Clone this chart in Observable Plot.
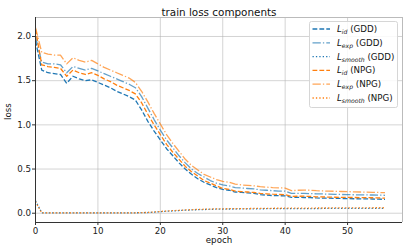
<!DOCTYPE html>
<html><head><meta charset="utf-8">
<script src="https://cdn.jsdelivr.net/npm/d3@7"></script>
<script src="https://cdn.jsdelivr.net/npm/@observablehq/plot@0.6"></script>
<style>
body{margin:0;background:#fff;}
svg{font-family:"DejaVu Sans",sans-serif;}
</style>
</head><body><div id="chart"></div>
<script>
const epochs = d3.range(57);
const xTicks = [0, 10, 20, 30, 40, 50];
const yTicks = [0, 0.5, 1.0, 1.5, 2.0];
const titleText = "train loss components";

const gddId = [1.95,1.62,1.59,1.58,1.57,1.47,1.55,1.52,1.50,1.51,1.48,1.45,1.42,1.38,1.35,1.32,1.28,1.17,1.04,0.93,
0.83,0.73,0.65,0.57,0.50,0.44,0.39,0.35,0.32,0.29,0.27,0.26,0.24,0.235,0.23,0.225,0.21,0.205,0.20,0.198,
0.197,0.18,0.18,0.178,0.177,0.173,0.171,0.17,0.168,0.167,0.165,0.164,0.163,0.162,0.161,0.159,0.157];
const gddExp = [2.00,1.71,1.69,1.69,1.68,1.59,1.66,1.64,1.62,1.64,1.61,1.58,1.55,1.52,1.49,1.46,1.42,1.32,1.19,1.06,
0.94,0.83,0.74,0.65,0.57,0.50,0.45,0.41,0.37,0.34,0.32,0.31,0.29,0.285,0.28,0.275,0.265,0.26,0.255,0.25,
0.25,0.225,0.225,0.225,0.222,0.22,0.218,0.216,0.214,0.212,0.21,0.209,0.208,0.207,0.206,0.205,0.203];
const gddSmooth = [0.14,0.005,0.004,0.004,0.004,0.004,0.004,0.004,0.004,0.004,0.004,0.004,0.004,0.004,0.005,0.005,0.005,0.006,0.008,0.012,
0.018,0.022,0.026,0.030,0.034,0.037,0.040,0.042,0.044,0.046,0.047,0.048,0.048,0.049,0.049,0.050,0.050,0.051,0.051,0.052,
0.052,0.052,0.053,0.053,0.053,0.053,0.054,0.054,0.054,0.054,0.054,0.055,0.055,0.055,0.055,0.055,0.055];
const npgId = [2.08,1.68,1.66,1.65,1.64,1.55,1.62,1.59,1.57,1.59,1.56,1.52,1.49,1.45,1.42,1.39,1.35,1.25,1.12,1.00,
0.89,0.78,0.69,0.61,0.53,0.47,0.42,0.37,0.34,0.31,0.28,0.27,0.25,0.245,0.24,0.235,0.225,0.22,0.215,0.212,
0.21,0.19,0.192,0.193,0.19,0.186,0.184,0.183,0.181,0.18,0.179,0.178,0.177,0.176,0.175,0.173,0.171];
const npgExp = [2.10,1.82,1.80,1.79,1.79,1.69,1.76,1.73,1.71,1.73,1.69,1.65,1.62,1.59,1.56,1.53,1.48,1.38,1.26,1.13,
1.01,0.89,0.79,0.70,0.61,0.54,0.49,0.44,0.41,0.38,0.36,0.35,0.33,0.32,0.315,0.31,0.30,0.295,0.29,0.287,
0.285,0.255,0.26,0.262,0.26,0.255,0.252,0.25,0.248,0.246,0.244,0.242,0.24,0.238,0.237,0.235,0.232];
const npgSmooth = [0.13,0.005,0.004,0.004,0.004,0.004,0.004,0.004,0.004,0.004,0.004,0.004,0.004,0.004,0.005,0.005,0.005,0.007,0.009,0.014,
0.020,0.025,0.029,0.033,0.037,0.040,0.043,0.045,0.047,0.049,0.050,0.051,0.052,0.053,0.053,0.054,0.055,0.055,0.056,0.056,
0.057,0.057,0.058,0.058,0.058,0.059,0.059,0.059,0.060,0.060,0.060,0.061,0.061,0.061,0.062,0.062,0.062];

const seriesNames = ["id", "exp", "smooth", "id", "exp", "smooth"];
const seriesTags = ["GDD", "GDD", "GDD", "NPG", "NPG", "NPG"];
const seriesValues = [gddId, gddExp, gddSmooth, npgId, npgExp, npgSmooth];
const blue = "#1f77b4", orange = "#ff7f0e";
const dashes = {id: "4.8,2.1", exp: "8.3,2.1,1.3,2.1", smooth: "1.3,2.1"};
const alphas = {id: 1, exp: 0.7, smooth: 1};

const series = seriesNames.map((n, k) => ({
  name: n, tag: seriesTags[k], values: seriesValues[k],
  color: seriesTags[k] === "GDD" ? blue : orange,
  dash: dashes[n], opacity: alphas[n]
}));

const W = 407, H = 252;
const mL = 35, mR = 5, mT = 17, mB = 30;
const xDomain = [0, 58.8], yDomain = [-0.105, 2.215];

const marks = [
  Plot.gridX(xTicks, {stroke: "#b0b0b0", strokeOpacity: 0.55, strokeWidth: 1}),
  Plot.gridY(yTicks, {stroke: "#b0b0b0", strokeOpacity: 0.55, strokeWidth: 1}),
  ...series.map(s => Plot.line(epochs, {
    x: d => d, y: (d, i) => s.values[i],
    stroke: s.color, strokeWidth: 1.3, strokeDasharray: s.dash,
    strokeOpacity: s.opacity, strokeLinecap: "butt", strokeLinejoin: "round"
  })),
  Plot.ruleY([yDomain[1]], {stroke: "#bbbbbb", strokeWidth: 1}),
  Plot.ruleX([xDomain[1]], {stroke: "#bbbbbb", strokeWidth: 1}),
  Plot.ruleX([xDomain[0]], {stroke: "#333", strokeWidth: 1}),
  Plot.ruleY([yDomain[0]], {stroke: "#333", strokeWidth: 1}),
  Plot.axisX(xTicks, {tickSize: 3, tickPadding: 2, fontSize: 8.7, label: null, stroke: "#333", fill: "#222"}),
  Plot.axisY(yTicks, {tickSize: 3, tickPadding: 1.5, fontSize: 8.7, label: null, tickFormat: d3.format(".1f"), stroke: "#333", fill: "#222"}),
  Plot.text([titleText], {frameAnchor: "top", dy: -9, fontSize: 10.4, fill: "#111"}),
  Plot.text(["epoch"], {frameAnchor: "bottom", dy: 20, fontSize: 8.7, fill: "#111"}),
  Plot.text(["loss"], {frameAnchor: "left", dx: -27, rotate: -90, fontSize: 8.7, fill: "#111"})
];

const svg = Plot.plot({
  width: W, height: H,
  marginLeft: mL, marginRight: mR, marginTop: mT, marginBottom: mB,
  x: {domain: xDomain},
  y: {domain: yDomain},
  style: {fontFamily: "DejaVu Sans, sans-serif", background: "#fff"},
  marks
});
document.getElementById("chart").appendChild(svg);

// legend
const lg = d3.select(svg).append("g")
  .attr("font-family", "DejaVu Sans, sans-serif")
  .attr("text-anchor", "start");
lg.append("rect").attr("x", 309.5).attr("y", 21.5).attr("width", 88).attr("height", 86)
  .attr("rx", 2).attr("fill", "#fff").attr("fill-opacity", 0.85).attr("stroke", "#d6d6d6");
series.forEach((s, k) => {
  const cy = 29 + k * 13.8;
  lg.append("line").attr("x1", 312.5).attr("x2", 330).attr("y1", cy).attr("y2", cy)
    .attr("stroke", s.color).attr("stroke-width", 1.3).attr("stroke-dasharray", s.dash)
    .attr("stroke-opacity", s.opacity);
  const t = lg.append("text").attr("x", 337).attr("y", cy + 3).attr("font-size", 8.7)
    .attr("fill", "#111").attr("text-anchor", "start");
  t.append("tspan").attr("font-style", "italic").text("L");
  t.append("tspan").attr("font-style", "italic").attr("font-size", 6.1).attr("dy", 2).text(s.name);
  t.append("tspan").attr("dy", -2).text(" (" + s.tag + ")");
});
</script>
</body></html>
